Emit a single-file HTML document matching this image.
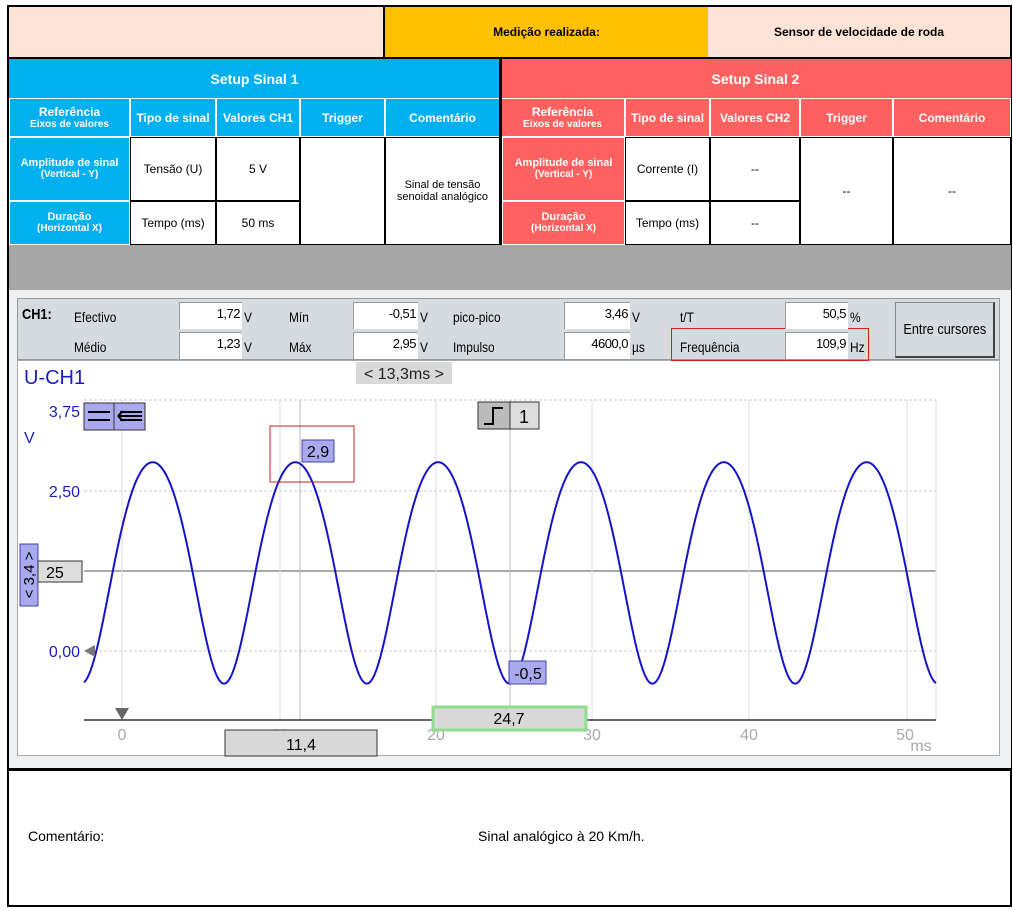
<!DOCTYPE html>
<html><head><meta charset="utf-8"><style>
body{margin:0;width:1013px;height:911px;background:#fff;position:relative;font-family:"Liberation Sans",sans-serif;overflow:hidden}
.a{position:absolute;box-sizing:border-box;display:flex;align-items:center;justify-content:center;text-align:center}
.n{position:absolute;box-sizing:border-box}
.hb{font-weight:bold;color:#fff}
.t{font-size:12px;line-height:14px}
.s{font-size:10px;line-height:12px}
.box{position:absolute;background:#fff;border-top:1px solid #999;border-left:1px solid #999;text-align:right;font-size:13px;line-height:22px;padding-right:2px;box-sizing:border-box;letter-spacing:-0.5px}
.lb{position:absolute;font-size:14px;transform:scaleX(.85);transform-origin:left;white-space:nowrap}
</style></head><body>
<div class="n" style="left:7px;top:5px;width:1005px;height:902px;border:2px solid #000"></div>
<div class="a" style="left:9px;top:7px;width:376px;height:50px;background:#fde4d6;border-right:2px solid #000"></div>
<div class="a t" style="left:385px;top:7px;width:323px;height:50px;background:#ffc000;font-weight:bold">Medição realizada:</div>
<div class="a t" style="left:708px;top:7px;width:302px;height:50px;background:#fde4d6;font-weight:bold">Sensor de velocidade de roda</div>
<div class="n" style="left:9px;top:57px;width:1002px;height:2px;background:#000"></div>
<div class="a hb" style="left:9px;top:59px;width:491px;height:39px;background:#00b0f0;font-size:14px">Setup Sinal 1</div>
<div class="a hb" style="left:500px;top:59px;width:511px;height:39px;background:#ff6161;font-size:14px">Setup Sinal 2</div>
<div class="a hb" style="left:9px;top:98px;width:121px;height:39px;background:#00b0f0;flex-direction:column;border:1px solid #fff"><div class="t">Referência</div><div class="s">Eixos de valores</div></div>
<div class="a hb t" style="left:130px;top:98px;width:86px;height:39px;background:#00b0f0;border:1px solid #fff">Tipo de sinal</div>
<div class="a hb t" style="left:216px;top:98px;width:84px;height:39px;background:#00b0f0;border:1px solid #fff">Valores CH1</div>
<div class="a hb t" style="left:300px;top:98px;width:85px;height:39px;background:#00b0f0;border:1px solid #fff">Trigger</div>
<div class="a hb t" style="left:385px;top:98px;width:115px;height:39px;background:#00b0f0;border:1px solid #fff">Comentário</div>
<div class="a hb" style="left:500px;top:98px;width:125px;height:39px;background:#ff6161;flex-direction:column;border:1px solid #fff"><div class="t">Referência</div><div class="s">Eixos de valores</div></div>
<div class="a hb t" style="left:625px;top:98px;width:85px;height:39px;background:#ff6161;border:1px solid #fff">Tipo de sinal</div>
<div class="a hb t" style="left:710px;top:98px;width:90px;height:39px;background:#ff6161;border:1px solid #fff">Valores CH2</div>
<div class="a hb t" style="left:800px;top:98px;width:93px;height:39px;background:#ff6161;border:1px solid #fff">Trigger</div>
<div class="a hb t" style="left:893px;top:98px;width:118px;height:39px;background:#ff6161;border:1px solid #fff">Comentário</div>
<div class="a hb" style="left:9px;top:137px;width:121px;height:64px;background:#00b0f0;flex-direction:column;border:1px solid #fff"><div class="s" style="font-size:11px">Amplitude de sinal</div><div class="s">(Vertical - Y)</div></div>
<div class="a hb" style="left:9px;top:201px;width:121px;height:44px;background:#00b0f0;flex-direction:column;border:1px solid #fff"><div class="s" style="font-size:11px">Duração</div><div class="s">(Horizontal X)</div></div>
<div class="a t" style="left:130px;top:137px;width:86px;height:64px;border:1px solid #000">Tensão (U)</div>
<div class="a t" style="left:130px;top:201px;width:86px;height:44px;border:1px solid #000">Tempo (ms)</div>
<div class="a t" style="left:216px;top:137px;width:84px;height:64px;border:1px solid #000">5 V</div>
<div class="a t" style="left:216px;top:201px;width:84px;height:44px;border:1px solid #000">50 ms</div>
<div class="a t" style="left:300px;top:137px;width:85px;height:108px;border:1px solid #000"></div>
<div class="a s" style="left:385px;top:137px;width:115px;height:108px;border:1px solid #000;flex-direction:column;font-size:11px"><div>Sinal de tensão</div><div>senoidal analógico</div></div>
<div class="n" style="left:499px;top:59px;width:3px;height:186px;background:#000"></div>
<div class="a hb" style="left:502px;top:137px;width:123px;height:64px;background:#ff6161;flex-direction:column;border:1px solid #fff"><div class="s" style="font-size:11px">Amplitude de sinal</div><div class="s">(Vertical - Y)</div></div>
<div class="a hb" style="left:502px;top:201px;width:123px;height:44px;background:#ff6161;flex-direction:column;border:1px solid #fff"><div class="s" style="font-size:11px">Duração</div><div class="s">(Horizontal X)</div></div>
<div class="a t" style="left:625px;top:137px;width:85px;height:64px;border:1px solid #000">Corrente (I)</div>
<div class="a t" style="left:625px;top:201px;width:85px;height:44px;border:1px solid #000">Tempo (ms)</div>
<div class="a t" style="left:710px;top:137px;width:90px;height:64px;border:1px solid #000">--</div>
<div class="a t" style="left:710px;top:201px;width:90px;height:44px;border:1px solid #000">--</div>
<div class="a t" style="left:800px;top:137px;width:93px;height:108px;border:1px solid #000">--</div>
<div class="a t" style="left:893px;top:137px;width:118px;height:108px;border:1px solid #000">--</div>
<div class="n" style="left:9px;top:245px;width:1002px;height:45px;background:#a6a6a6"></div>
<div class="n" style="left:9px;top:290px;width:1002px;height:478px;background:#eef0f2"></div>
<div class="n" style="left:17px;top:298px;width:983px;height:62px;background:#d6dbe0;border:1px solid #999"></div>
<div class="n" style="left:17px;top:360px;width:983px;height:396px;background:#fff;border:1px solid #aaa"></div>
<div class="lb" style="left:22px;top:306px;font-weight:bold;font-size:15px">CH1:</div>
<div class="lb" style="left:74px;top:309px">Efectivo</div>
<div class="lb" style="left:74px;top:339px">Médio</div>
<div class="box" style="left:179px;top:302px;width:63px;height:27px">1,72</div><div class="lb" style="left:244px;top:309px">V</div>
<div class="box" style="left:179px;top:332px;width:63px;height:27px">1,23</div><div class="lb" style="left:244px;top:339px">V</div>
<div class="lb" style="left:289px;top:309px">Mín</div>
<div class="lb" style="left:289px;top:339px">Máx</div>
<div class="box" style="left:353px;top:302px;width:65px;height:27px">-0,51</div><div class="lb" style="left:420px;top:309px">V</div>
<div class="box" style="left:353px;top:332px;width:65px;height:27px">2,95</div><div class="lb" style="left:420px;top:339px">V</div>
<div class="lb" style="left:453px;top:309px">pico-pico</div>
<div class="lb" style="left:453px;top:339px">Impulso</div>
<div class="box" style="left:564px;top:302px;width:66px;height:27px">3,46</div><div class="lb" style="left:632px;top:309px">V</div>
<div class="box" style="left:564px;top:332px;width:66px;height:27px">4600,0</div><div class="lb" style="left:632px;top:339px">µs</div>
<div class="lb" style="left:680px;top:309px">t/T</div>
<div class="n" style="left:671px;top:328px;width:198px;height:33px;border:1px solid #d02020"></div>
<div class="lb" style="left:680px;top:339px">Frequência</div>
<div class="box" style="left:785px;top:302px;width:63px;height:27px">50,5</div><div class="lb" style="left:850px;top:309px">%</div>
<div class="box" style="left:785px;top:332px;width:63px;height:27px">109,9</div><div class="lb" style="left:850px;top:339px">Hz</div>
<div class="a" style="left:895px;top:302px;width:100px;height:56px;background:#d6dbe0;border:1px solid #888;border-right:2px solid #444;border-bottom:2px solid #444"><span style="font-size:15px;white-space:nowrap;display:inline-block;transform:scaleX(.85)">Entre cursores</span></div>
<svg class="n" style="left:0;top:0" width="1013" height="911">
<g font-family="Liberation Sans,sans-serif">
<text x="24" y="384" fill="#1c1cc0" font-size="20">U-CH1</text>
<rect x="356" y="362" width="96" height="22" fill="#d8d8d8"/>
<text x="404" y="379" text-anchor="middle" font-size="16" fill="#222">&lt; 13,3ms &gt;</text>
<g stroke="#ccc" stroke-width="1" stroke-dasharray="3,2">
<line x1="84" y1="400" x2="936" y2="400"/><line x1="84" y1="491" x2="936" y2="491"/><line x1="84" y1="651" x2="936" y2="651"/>
</g>
<line x1="84" y1="571" x2="936" y2="571" stroke="#aaa" stroke-width="2"/>
<g stroke="#ddd"><line x1="122" y1="400" x2="122" y2="720"/><line x1="280" y1="400" x2="280" y2="720"/><line x1="436" y1="400" x2="436" y2="720"/><line x1="592" y1="400" x2="592" y2="720"/><line x1="749" y1="400" x2="749" y2="720"/><line x1="907" y1="400" x2="907" y2="720"/><line x1="936" y1="400" x2="936" y2="720"/></g>
<line x1="300" y1="400" x2="300" y2="720" stroke="#bbb"/>
<line x1="510" y1="400" x2="510" y2="720" stroke="#bbb"/>
<line x1="84" y1="720" x2="936" y2="720" stroke="#333" stroke-width="1.5"/>
<polyline id="w" fill="none" stroke="#1414c8" stroke-width="2"/>
<g fill="#1c1cc0" font-size="16" text-anchor="end"><text x="80" y="417">3,75</text><text x="80" y="497">2,50</text><text x="80" y="657">0,00</text></g>
<text x="24" y="443" fill="#1c1cc0" font-size="16">V</text>
<polygon points="84,651 95,645 95,657" fill="#777"/>
<rect x="84" y="403" width="30" height="27" fill="#a9a9ee" stroke="#333"/><rect x="114" y="403" width="31" height="27" fill="#a9a9ee" stroke="#333"/>
<path d="M88 412h22M88 420h22M120 412h22M120 420h22M118 416h24M118 416l5-5M118 416l5 5" stroke="#000" stroke-width="2"/>
<rect x="478" y="402" width="32" height="27" fill="#bbb" stroke="#333"/><rect x="510" y="402" width="29" height="27" fill="#ddd" stroke="#333"/>
<path d="M484 424h9v-16h10" stroke="#000" stroke-width="2" fill="none"/>
<text x="524" y="423" font-size="18" text-anchor="middle">1</text>
<rect x="270" y="426" width="84" height="56" fill="none" stroke="#d02020"/>
<rect x="302" y="440" width="32" height="22" fill="#a9a9ee" stroke="#4444aa"/><text x="318" y="457" font-size="16" text-anchor="middle">2,9</text>
<rect x="509" y="661" width="37" height="23" fill="#a9a9ee" stroke="#4444aa"/><text x="528" y="679" font-size="16" text-anchor="middle">-0,5</text>
<rect x="20" y="544" width="18" height="62" fill="#a9a9ee" stroke="#4444aa"/>
<text transform="translate(34,575) rotate(-90)" font-size="15" text-anchor="middle">&lt; 3,4 &gt;</text>
<rect x="38" y="561" width="44" height="21" fill="#ddd" stroke="#333"/><text x="46" y="578" font-size="16">25</text>
<polygon points="115,708 129,708 122,720" fill="#666"/>
<g fill="#aaa" font-size="16" text-anchor="middle"><text x="122" y="740">0</text><text x="280" y="740">10</text><text x="436" y="740">20</text><text x="592" y="740">30</text><text x="749" y="740">40</text><text x="905" y="740">50</text><text x="921" y="751">ms</text></g>
<rect x="225" y="730" width="152" height="26" fill="#d8d8d8" stroke="#333"/><text x="301" y="750" font-size="16" text-anchor="middle">11,4</text>
<rect x="433" y="707" width="153" height="23" fill="#d8d8d8" stroke="#8fdc8f" stroke-width="3"/><text x="509" y="724" font-size="16" text-anchor="middle">24,7</text>
</g>
</svg>
<div class="n" style="left:9px;top:768px;width:1002px;height:3px;background:#000"></div>
<div class="lb" style="left:28px;top:828px;transform:none">Comentário:</div>
<div class="lb" style="left:478px;top:828px;transform:none">Sinal analógico à 20 Km/h.</div>
<script>
var p=[];for(var x=84;x<=936;x+=1){var th=2*Math.PI*(x-224)/142.8;th=th+0.2*Math.sin(th);var v=1.22-1.73*Math.cos(th);p.push(x+","+(651-v*64).toFixed(1));}
document.getElementById("w").setAttribute("points",p.join(" "));
</script>
</body></html>
